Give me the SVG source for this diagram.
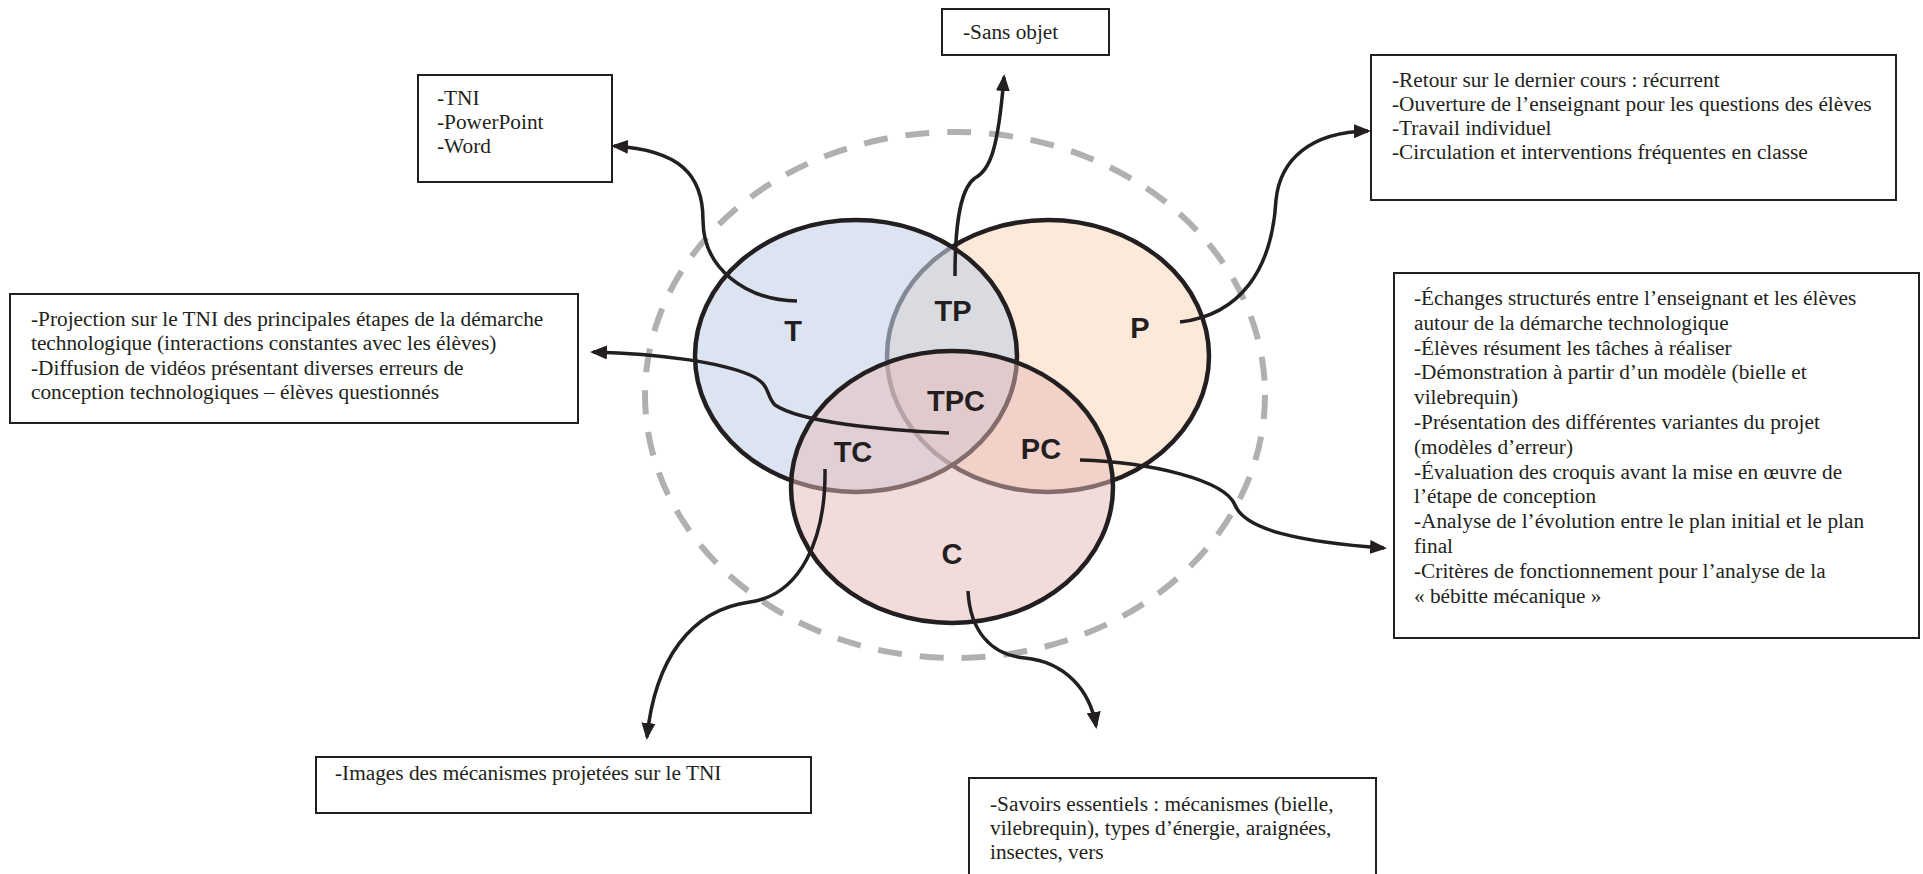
<svg xmlns="http://www.w3.org/2000/svg" width="1923" height="874" viewBox="0 0 1923 874">
  <style>
    .box { fill: #ffffff; stroke: #231f20; stroke-width: 2; }
    .txt { font-family: "Liberation Serif", "Times New Roman", serif; font-size: 21.3px; fill: #231f20; }
    .lbl { font-family: "Liberation Sans", Arial, sans-serif; font-size: 29px; font-weight: bold; fill: #231f20; text-anchor: middle; }
    .ring { stroke: #231f20; stroke-width: 4.5; }
    .link { fill: none; stroke: #231f20; stroke-width: 3.5; marker-end: url(#arrow); }
  </style>
  <defs>
    <marker id="arrow" markerUnits="userSpaceOnUse" markerWidth="18" markerHeight="14" refX="14" refY="7" orient="auto">
      <path d="M0,0 L17,7 L0,14 Z" fill="#231f20"/>
    </marker>
  </defs>

  <!-- outer dashed boundary -->
  <ellipse id="context" cx="955" cy="395" rx="310" ry="263" fill="none" stroke="#b0b0b0" stroke-width="6" stroke-dasharray="24 18"/>

  <!-- Venn circles -->
  <g id="circle-P">
    <ellipse class="ring" cx="1048" cy="356" rx="161" ry="136" fill="#fde9d9"/>
  </g>
  <g id="circle-T">
    <ellipse cx="856" cy="356" rx="161" ry="136" fill="rgb(195,210,230)" fill-opacity="0.6"/>
    <ellipse cx="856" cy="356" rx="161" ry="136" fill="none" stroke="#231f20" stroke-width="4.5"/>
  </g>
  <g id="circle-C">
    <ellipse cx="952" cy="487" rx="161" ry="136" fill="rgb(229,185,183)" fill-opacity="0.5"/>
    <ellipse cx="952" cy="487" rx="161" ry="136" fill="none" stroke="#231f20" stroke-width="4.5"/>
  </g>

  <!-- region labels -->
  <g id="labels">
    <text class="lbl" x="793" y="341">T</text>
    <text class="lbl" x="953" y="321">TP</text>
    <text class="lbl" x="1140" y="338">P</text>
    <text class="lbl" x="956" y="411">TPC</text>
    <text class="lbl" x="853" y="462">TC</text>
    <text class="lbl" x="1041" y="459">PC</text>
    <text class="lbl" x="952" y="564">C</text>
  </g>

  <!-- text boxes -->
  <g id="box-T">
    <rect class="box" x="418" y="75" width="194" height="107"/>
    <text class="txt" x="437" y="105">-TNI</text>
    <text class="txt" x="437" y="129">-PowerPoint</text>
    <text class="txt" x="437" y="153">-Word</text>
  </g>
  <g id="box-TP">
    <rect class="box" x="942" y="9" width="167" height="46"/>
    <text class="txt" x="963" y="39">-Sans objet</text>
  </g>
  <g id="box-P">
    <rect class="box" x="1371" y="55" width="525" height="145"/>
    <text class="txt" x="1392" y="87">-Retour sur le dernier cours : récurrent</text>
    <text class="txt" x="1392" y="111">-Ouverture de l’enseignant pour les questions des élèves</text>
    <text class="txt" x="1392" y="135">-Travail individuel</text>
    <text class="txt" x="1392" y="159">-Circulation et interventions fréquentes en classe</text>
  </g>
  <g id="box-TPC">
    <rect class="box" x="10" y="294" width="568" height="129"/>
    <text class="txt" x="31" y="325.5">-Projection sur le TNI des principales étapes de la démarche</text>
    <text class="txt" x="31" y="350">technologique (interactions constantes avec les élèves)</text>
    <text class="txt" x="31" y="374.5">-Diffusion de vidéos présentant diverses erreurs de</text>
    <text class="txt" x="31" y="399">conception technologiques – élèves questionnés</text>
  </g>
  <g id="box-PC">
    <rect class="box" x="1394" y="273" width="525" height="365"/>
    <text class="txt" x="1414" y="305">-Échanges structurés entre l’enseignant et les élèves</text>
    <text class="txt" x="1414" y="329.8">autour de la démarche technologique</text>
    <text class="txt" x="1414" y="354.6">-Élèves résument les tâches à réaliser</text>
    <text class="txt" x="1414" y="379.4">-Démonstration à partir d’un modèle (bielle et</text>
    <text class="txt" x="1414" y="404.2">vilebrequin)</text>
    <text class="txt" x="1414" y="429">-Présentation des différentes variantes du projet</text>
    <text class="txt" x="1414" y="453.8">(modèles d’erreur)</text>
    <text class="txt" x="1414" y="478.6">-Évaluation des croquis avant la mise en œuvre de</text>
    <text class="txt" x="1414" y="503.4">l’étape de conception</text>
    <text class="txt" x="1414" y="528.2">-Analyse de l’évolution entre le plan initial et le plan</text>
    <text class="txt" x="1414" y="553">final</text>
    <text class="txt" x="1414" y="577.8">-Critères de fonctionnement pour l’analyse de la</text>
    <text class="txt" x="1414" y="602.6">« bébitte mécanique »</text>
  </g>
  <g id="box-TC">
    <rect class="box" x="316" y="757" width="495" height="56"/>
    <text class="txt" x="335" y="780">-Images des mécanismes projetées sur le TNI</text>
  </g>
  <g id="box-C">
    <rect class="box" x="969" y="778" width="407" height="110"/>
    <text class="txt" x="990" y="811">-Savoirs essentiels : mécanismes (bielle,</text>
    <text class="txt" x="990" y="835">vilebrequin), types d’énergie, araignées,</text>
    <text class="txt" x="990" y="859">insectes, vers</text>
  </g>

  <!-- connectors from each region to its box -->
  <g id="connectors">
    <path class="link" d="M797,301 C745,300 703,268 703,220 C703,175 680,150 614,146"/>
    <path class="link" d="M955,276 C955,235 958,190 975,178 C990,170 998,150 1004,77"/>
    <path class="link" d="M1180,322 C1240,315 1272,270 1276,200 C1280,160 1310,132 1368,131"/>
    <path class="link" d="M949,433 C880,430 800,422 775,405 C765,395 772,385 750,375 C720,362 660,354 593,352"/>
    <path class="link" d="M825,469 C826,540 800,595 750,602 C690,610 655,660 647,737"/>
    <path class="link" d="M1080,460 C1150,462 1225,480 1235,505 C1245,530 1300,542 1384,548"/>
    <path class="link" d="M968,591 C970,630 990,655 1025,658 C1065,662 1090,690 1096,726"/>
  </g>
</svg>
